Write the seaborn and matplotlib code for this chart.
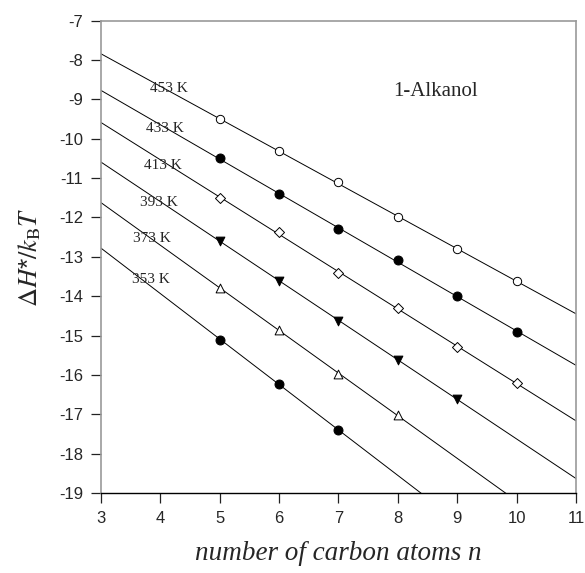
import numpy as np
import pandas as pd
import matplotlib
matplotlib.use("Agg")
import matplotlib.pyplot as plt
import seaborn as sns

# values
temps = ["453 K", "433 K", "413 K", "393 K", "373 K", "353 K"]
n_453 = [5, 6, 7, 8, 9, 10]
h_453 = [-9.51, -10.31, -11.11, -11.99, -12.80, -13.62]
n_433 = [5, 6, 7, 8, 9, 10]
h_433 = [-10.50, -11.41, -12.30, -13.09, -14.00, -14.90]
n_413 = [5, 6, 7, 8, 9, 10]
h_413 = [-11.50, -12.38, -13.41, -14.31, -15.30, -16.20]
n_393 = [5, 6, 7, 8, 9]
h_393 = [-12.59, -13.62, -14.62, -15.61, -16.62]
n_373 = [5, 6, 7, 8]
h_373 = [-13.78, -14.87, -15.98, -17.02]
n_353 = [5, 6, 7]
h_353 = [-15.10, -16.22, -17.41]

x_ticks = [3, 4, 5, 6, 7, 8, 9, 10, 11]
y_ticks = [-7, -8, -9, -10, -11, -12, -13, -14, -15, -16, -17, -18, -19]

series_n = [n_453, n_433, n_413, n_393, n_373, n_353]
series_h = [h_453, h_433, h_413, h_393, h_373, h_353]

rows = []
for t, ns, hs in zip(temps, series_n, series_h):
    for n, h in zip(ns, hs):
        rows.append({"T": t, "n": n, "H": h})
df = pd.DataFrame(rows)

# straight-line fits through each temperature, drawn across the full axis
fit_rows = []
for t, ns, hs in zip(temps, series_n, series_h):
    k, b = np.polyfit(ns, hs, 1)
    for x in (x_ticks[0], x_ticks[-1]):
        fit_rows.append({"T": t, "n": x, "H": k * x + b})
fit = pd.DataFrame(fit_rows)

sns.set_style("ticks")
plt.rcParams["font.family"] = ["Liberation Sans", "DejaVu Sans"]
plt.rcParams["mathtext.fontset"] = "stix"
plt.rcParams["axes.unicode_minus"] = False

fig = plt.figure(figsize=(5.85, 5.73), dpi=100)
ax = fig.add_axes([0.1726, 0.1396, 0.8120, 0.8243])

sns.lineplot(data=fit, x="n", y="H", units="T", estimator=None,
             color="black", linewidth=0.7, ax=ax, legend=False)

markers = ["o", "o", "D", "v", "^", "o"]
faces = ["white", "black", "white", "black", "white", "black"]
sizes = [36, 42, 26, 40, 40, 42]
for t, m, fc, s in zip(temps, markers, faces, sizes):
    sns.scatterplot(data=df[df["T"] == t], x="n", y="H", marker=m, s=s,
                    color=fc, edgecolor="black", linewidth=0.7,
                    ax=ax, legend=False, zorder=3)

label_pos = [(4.15, -8.72), (4.08, -9.73), (4.04, -10.67),
             (3.97, -11.61), (3.85, -12.54), (3.84, -13.58)]
for t, (x, y) in zip(temps, label_pos):
    ax.text(x, y, t, ha="center", va="center", fontsize=11,
            family="Liberation Serif")
ax.text(8.63, -8.8, "1-Alkanol", ha="center", va="center", fontsize=15,
        family="Liberation Serif")

ax.set_xlim(3, 11)
ax.set_ylim(-19, -7)
ax.set_xticks(x_ticks)
ax.set_yticks(y_ticks)
ax.tick_params(direction="out", length=7, width=0.9, labelsize=12, pad=6,
               color="#222222")

for side in ["left", "top", "right"]:
    ax.spines[side].set_color("#999999")
    ax.spines[side].set_linewidth(1.2)
ax.spines["bottom"].set_color("black")
ax.spines["bottom"].set_linewidth(1.0)

ax.set_xlabel("number of carbon atoms n", fontsize=19.5, style="italic",
              family="Liberation Serif", labelpad=11)
ax.set_ylabel(r"$\Delta H$*$/k_{\mathrm{B}}T$", fontsize=19)
ax.yaxis.set_label_coords(-0.122, 0.5)

fig.savefig("out.png", dpi=100)
